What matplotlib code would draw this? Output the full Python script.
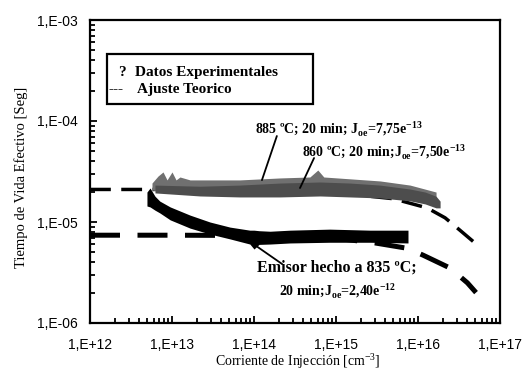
import numpy as np
import matplotlib
matplotlib.use('Agg')
import matplotlib.pyplot as plt
from matplotlib.patches import Rectangle
from matplotlib.ticker import LogLocator, FuncFormatter, NullFormatter

plt.rcParams['mathtext.fontset'] = 'custom'
plt.rcParams['mathtext.rm'] = 'Liberation Serif'
plt.rcParams['mathtext.bf'] = 'Liberation Serif:bold'

# bandas de datos experimentales (x, borde inferior, borde superior)
x_885 = [5.7e12, 6.75e12, 7.77e12, 8.7e12, 1.0e13, 1.12e13, 1.25e13, 1.66e13,
         6.7e13, 2.07e14, 4.8e14, 6.0e14, 7.1e14, 3.44e15, 8.0e15, 1.66e16]
lo_885 = [2.07e-5, 2.03e-5, 2.03e-5, 2.03e-5, 2.03e-5, 2.03e-5, 2.03e-5, 2.07e-5,
          2.07e-5, 2.17e-5, 2.17e-5, 2.17e-5, 2.17e-5, 2.07e-5, 1.94e-5, 1.65e-5]
hi_885 = [2.43e-5, 2.85e-5, 3.13e-5, 2.61e-5, 3.13e-5, 2.61e-5, 2.79e-5, 2.61e-5,
          2.61e-5, 2.73e-5, 2.79e-5, 3.27e-5, 2.79e-5, 2.55e-5, 2.32e-5, 1.98e-5]

x_860 = [6.2e12, 2.2e13, 6.7e13, 2.07e14, 6.4e14, 1.48e15, 3.44e15, 8.0e15,
         1.22e16, 1.66e16, 1.86e16]
lo_860 = [1.94e-5, 1.81e-5, 1.77e-5, 1.77e-5, 1.81e-5, 1.77e-5, 1.73e-5, 1.62e-5,
          1.51e-5, 1.38e-5, 1.38e-5]
hi_860 = [2.32e-5, 2.26e-5, 2.32e-5, 2.43e-5, 2.49e-5, 2.43e-5, 2.32e-5, 2.12e-5,
          1.98e-5, 1.80e-5, 1.61e-5]

x_835 = [4.95e12, 5.4e12, 6.2e12, 7.1e12, 9.5e12, 1.66e13, 2.9e13, 5.1e13,
         8.9e13, 1.0e14, 1.15e14, 1.57e14, 2.75e14, 8.4e14, 2.6e15, 7.55e15]
lo_835 = [1.44e-5, 1.41e-5, 1.31e-5, 1.23e-5, 1.05e-5, 8.7e-6, 7.6e-6, 6.8e-6,
          6.05e-6, 5.4e-6, 6.0e-6, 6.05e-6, 6.2e-6, 6.3e-6, 6.3e-6, 6.2e-6]
hi_835 = [1.98e-5, 2.17e-5, 1.80e-5, 1.61e-5, 1.41e-5, 1.17e-5, 1.0e-5, 8.9e-6,
          8.3e-6, 8.3e-6, 8.2e-6, 8.1e-6, 8.3e-6, 8.5e-6, 8.3e-6, 8.3e-6]

# ajustes teoricos
fit_gris_x = [1e12, 1e13, 1e14, 1e15, 5e15, 1.29e16, 2.14e16, 3.24e16, 4.95e16]
fit_gris_y = [2.1e-5, 2.1e-5, 2.08e-5, 1.95e-5, 1.7e-5, 1.38e-5, 1.1e-5, 8.3e-6, 6.2e-6]
fit_negro_x = [1e12, 1e13, 1e14, 1e15, 3e15, 7.3e15, 1.15e16, 2.46e16, 4.0e16, 5.1e16]
fit_negro_y = [7.4e-6, 7.4e-6, 7.35e-6, 6.9e-6, 6.2e-6, 5.5e-6, 4.7e-6, 3.5e-6, 2.5e-6, 2.0e-6]

fig = plt.figure(figsize=(5.28, 3.71), dpi=100)
ax = fig.add_axes([90/528, 1-323/371, 410/528, 303/371])

ax.plot(fit_gris_x, fit_gris_y, color='black', lw=2.5, dashes=(6, 3), zorder=1)
ax.plot(fit_negro_x, fit_negro_y, color='black', lw=3.6, dashes=(6, 3.5), zorder=1)

ax.fill_between(x_885, lo_885, hi_885, color='#707070', lw=0, zorder=2)
ax.fill_between(x_860, lo_860, hi_860, color='#4d4d4d', lw=0, zorder=3)
ax.fill_between(x_835, lo_835, hi_835, color='black', lw=0, zorder=3)

ax.set_xscale('log')
ax.set_yscale('log')
ax.set_xlim(1e12, 1e17)
ax.set_ylim(1e-6, 1e-3)

def fmt(v, pos):
    e = int(round(np.log10(v)))
    return '1,E%s%02d' % ('+' if e >= 0 else '-', abs(e))

for a in (ax.xaxis, ax.yaxis):
    a.set_major_locator(LogLocator(base=10, numticks=10))
    a.set_minor_locator(LogLocator(base=10, subs=np.arange(2, 10), numticks=10))
    a.set_major_formatter(FuncFormatter(fmt))
    a.set_minor_formatter(NullFormatter())

ax.tick_params(which='both', direction='in', top=False, right=False,
               labelsize=10, width=1.3)
ax.tick_params(axis='x', which='both', pad=11)
ax.tick_params(axis='y', which='both', pad=8.5)
ax.tick_params(which='major', length=5)
ax.tick_params(which='minor', length=3.5)
for lab in ax.get_xticklabels() + ax.get_yticklabels():
    lab.set_fontfamily('Liberation Sans')
for s in ax.spines.values():
    s.set_linewidth(1.6)

ax.set_xlabel('Corriente de Injección [cm$^{-3}$]', family='Liberation Serif', fontsize=10)
ax.xaxis.set_label_coords(0.507, -0.093)
ax.set_ylabel('Tiempo de Vida Efectivo [Seg]', family='Liberation Serif', fontsize=10.5)
ax.yaxis.set_label_coords(-0.152, 0.48)

# leyenda dibujada a mano
ax.add_patch(Rectangle((0.0415, 0.723), 0.5025, 0.165, transform=ax.transAxes,
                       fill=False, ec='black', lw=1.6, zorder=5))
tk = dict(transform=ax.transAxes, family='Liberation Serif', weight='bold',
          fontsize=11, va='center', zorder=6)
ax.text(0.068, 0.828, '?', **tk)
ax.text(0.11, 0.828, 'Datos Experimentales', **tk)
ax.text(0.044, 0.769, '---', **tk)
ax.text(0.115, 0.769, 'Ajuste Teorico', **tk)

txt = dict(family='Liberation Serif', weight='bold', fontsize=11.5, va='center')
txt_j = dict(txt, fontsize=10)
linea = dict(arrowstyle='-', color='black', lw=1.3, shrinkA=0, shrinkB=0)
ax.text(1.03e14, 8.3e-5, '885 ºC; 20 min; J$_{\\mathbf{oe}}$=7,75e$^{\\mathbf{-13}}$', **txt_j)
ax.annotate('', xy=(1.25e14, 2.6e-5), xytext=(1.9e14, 7.1e-5), arrowprops=linea)
ax.text(3.85e14, 4.93e-5, '860 ºC; 20 min;J$_{\\mathbf{oe}}$=7,50e$^{\\mathbf{-13}}$', **txt_j)
ax.annotate('', xy=(3.64e14, 2.17e-5), xytext=(5.4e14, 4.3e-5), arrowprops=linea)
ax.text(1.03e15, 3.58e-6, 'Emisor hecho a 835 ºC;', ha='center', **txt)
ax.text(1.03e15, 2.07e-6, '20 min;J$_{\\mathbf{oe}}$=2,40e$^{\\mathbf{-12}}$', ha='center', **txt_j)
ax.annotate('', xy=(1.06e14, 5.8e-6), xytext=(2.2e14, 3.84e-6), arrowprops=linea)

fig.savefig('out.png', dpi=100)
